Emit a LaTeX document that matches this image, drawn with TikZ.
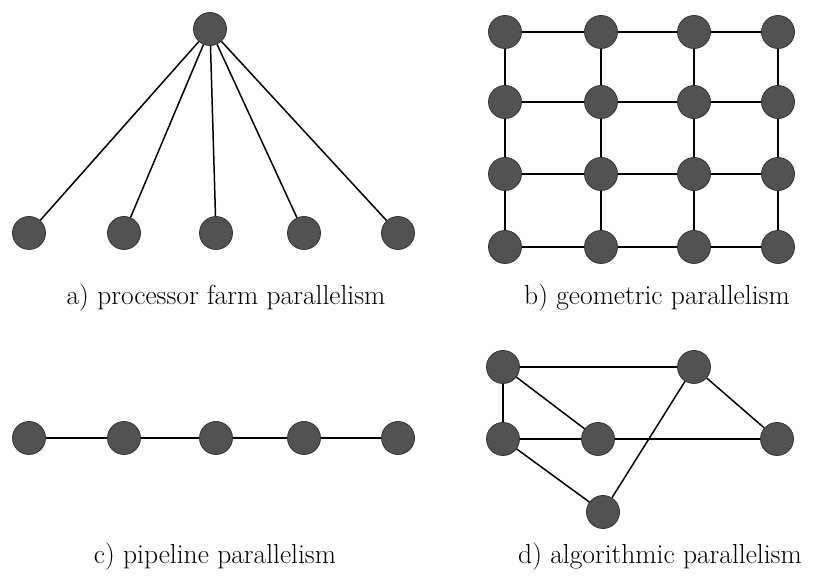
\documentclass[tikz,border=0pt]{standalone}
\usepackage{color}
\usepackage{tikz}
\usepackage{amsmath}

\begin{document}
\begin{tikzpicture}[x=1pt,y=1pt,
  proc/.style={circle,draw=black!80,fill=black!68,line width=0.8pt,inner sep=0pt,minimum size=33pt},
  link/.style={draw=black,line width=1.5pt},
  caption/.style={font=\fontsize{27.5}{32}\selectfont}]
\useasboundingbox (0,0) rectangle (814,577);
% a) processor farm:
\node[proc] (farm) at (210,548) {};
\foreach \i/\x in {1/29,2/124,3/216,4/304,5/398}
  \node[proc] (worker\i) at (\x,344) {};
\foreach \i in {1,...,5}
  \path[link] (farm) -- (worker\i);
\node[caption] (capa) at (226,279) {a) processor farm parallelism};
% b) geometric grid:
\foreach \c/\x in {1/505,2/601,3/694,4/778}
  \foreach \r/\y in {1/545,2/475,3/403,4/330}
    \node[proc] (grid\c\r) at (\x,\y) {};
\foreach \c in {1,...,4}
  \foreach \r/\s in {1/2,2/3,3/4}
    \path[link] (grid\c\r) -- (grid\c\s);
\foreach \r in {1,...,4}
  \foreach \c/\d in {1/2,2/3,3/4}
    \path[link] (grid\c\r) -- (grid\d\r);
\node[caption] (capb) at (657,279) {b) geometric parallelism};
% c) pipeline:
\foreach \i/\x in {1/29,2/124,3/216,4/304,5/398}
  \node[proc] (stage\i) at (\x,139) {};
\foreach \i/\j in {1/2,2/3,3/4,4/5}
  \path[link] (stage\i) -- (stage\j);
\node[caption] (capc) at (215,20) {c) pipeline parallelism};
% d) algorithmic:
\node[proc] (algA) at (503,210) {};
\node[proc] (algB) at (694,210) {};
\node[proc] (algC) at (503,138) {};
\node[proc] (algD) at (598,138) {};
\node[proc] (algE) at (777,138) {};
\node[proc] (algF) at (603,65) {};
\foreach \u/\v in {A/B,A/C,A/D,C/D,D/E,B/E,B/F,C/F}
  \path[link] (alg\u) -- (alg\v);
\node[caption] (capd) at (660,20) {d) algorithmic parallelism};
\end{tikzpicture}
\end{document}
